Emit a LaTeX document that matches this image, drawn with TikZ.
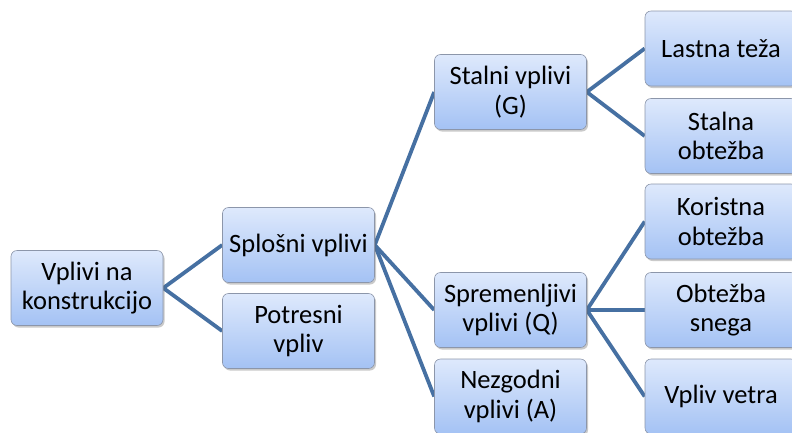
\documentclass[tikz,border=0pt]{standalone}
\usepackage{fontspec}
\setmainfont{Carlito}
\usetikzlibrary{shadows}
\pgfdeclarelayer{bg}
\pgfsetlayers{bg,main}
\definecolor{boxtop}{RGB}{222,233,252}
\definecolor{boxbot}{RGB}{164,194,244}
\definecolor{boxline}{RGB}{140,150,170}
\definecolor{linkcol}{RGB}{70,112,162}
\tikzset{
  box/.style={rectangle, rounded corners=6pt, draw=boxline, line width=0.6pt,
    top color=boxtop, bottom color=boxbot, minimum width=152pt, minimum height=75pt,
    inner sep=2pt, align=center, font=\fontsize{26.5}{29.5}\selectfont,
    drop shadow={shadow xshift=1.5pt, shadow yshift=-2pt, opacity=0.35, fill=black!60}},
  link/.style={draw=linkcol, line width=3.8pt}
}
\begin{document}
\begin{tikzpicture}[x=1pt,y=-1pt]
\useasboundingbox (0,0) rectangle (792,432);
\node[box] (root) at (87,288) {Vplivi na\\konstrukcijo};
\node[box] (splo) at (298.5,245) {Splošni vplivi};
\node[box] (potr) at (298.5,331) {Potresni\\vpliv};
\node[box] (stal) at (510.5,92) {Stalni vplivi\\(G)};
\node[box] (spre) at (510.5,310) {Spremenljivi\\vplivi (Q)};
\node[box] (nezg) at (510.5,396.5) {Nezgodni\\vplivi (A)};
\node[box] (last) at (721,48.5) {Lastna teža};
\node[box] (stob) at (721,136) {Stalna\\obtežba};
\node[box] (kori) at (721,221.5) {Koristna\\obtežba};
\node[box] (sneg) at (721,310) {Obtežba\\snega};
\node[box] (veter) at (721,396.5) {Vpliv vetra};
\begin{pgfonlayer}{bg}
\draw[link] (root.east) -- (splo.west);
\draw[link] (root.east) -- (potr.west);
\draw[link] (splo.east) -- (stal.west);
\draw[link] (splo.east) -- (spre.west);
\draw[link] (splo.east) -- (nezg.west);
\draw[link] (stal.east) -- (last.west);
\draw[link] (stal.east) -- (stob.west);
\draw[link] (spre.east) -- (kori.west);
\draw[link] (spre.east) -- (sneg.west);
\draw[link] (spre.east) -- (veter.west);
\end{pgfonlayer}
\end{tikzpicture}
\end{document}
